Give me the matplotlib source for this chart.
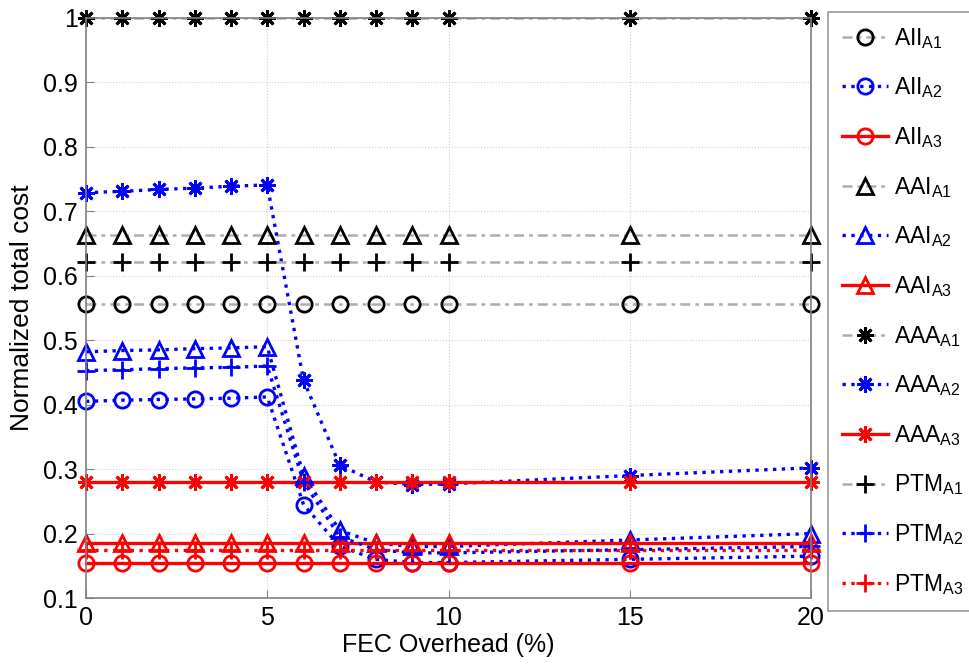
import matplotlib
matplotlib.use('Agg')
import matplotlib.pyplot as plt
import numpy as np

plt.rcParams['font.family'] = ['Liberation Sans', 'DejaVu Sans']
plt.rcParams['mathtext.fontset'] = 'custom'
plt.rcParams['mathtext.rm'] = 'Liberation Sans'

# FEC overhead (%)
x = [0, 1, 2, 3, 4, 5, 6, 7, 8, 9, 10, 15, 20]

# A1 series (flat)
aii_a1 = [0.556] * 13
aai_a1 = [0.664] * 13
aaa_a1 = [1.0] * 13
ptm_a1 = [0.621] * 13

# A2 series
aii_a2 = [0.405, 0.407, 0.408, 0.409, 0.410, 0.412, 0.245, 0.180, 0.160, 0.155, 0.155, 0.160, 0.165]
aai_a2 = [0.482, 0.484, 0.485, 0.487, 0.488, 0.490, 0.290, 0.205, 0.185, 0.180, 0.180, 0.190, 0.200]
aaa_a2 = [0.729, 0.731, 0.734, 0.736, 0.739, 0.741, 0.438, 0.306, 0.280, 0.276, 0.277, 0.290, 0.302]
ptm_a2 = [0.453, 0.454, 0.456, 0.457, 0.458, 0.460, 0.280, 0.195, 0.175, 0.170, 0.170, 0.175, 0.180]

# A3 series (flat)
aii_a3 = [0.155] * 13
aai_a3 = [0.186] * 13
aaa_a3 = [0.280] * 13
ptm_a3 = [0.175] * 13

fig = plt.figure(figsize=(9.69, 6.72), dpi=100)
ax = fig.add_axes([86/969, 1-598/672, (811-86)/969, (598-18)/672])

gray = (0.68, 0.68, 0.68)
mew = 2

def draw(y, marker, mcolor, lcolor, ls, label, msz=11):
    if ls == '-.':
        ax.plot(x, y, color=lcolor, lw=1.8, dashes=(4, 2, 1.5, 2))
        lw = 1.8
    else:
        lw = 2.4
    ax.plot(x, y, linestyle=ls if ls != '-.' else 'none', color=lcolor, lw=lw,
            marker=marker, markersize=msz, markerfacecolor='none',
            markeredgecolor=mcolor, markeredgewidth=mew, clip_on=False)
    # legend proxy
    ax.plot([], [], color=lcolor, lw=lw, linestyle=ls if ls != '-.' else (0, (4, 2, 1.5, 2)),
            marker=marker, markersize=msz, markerfacecolor='none',
            markeredgecolor=mcolor, markeredgewidth=mew, label=label)

draw(aii_a1, 'o', 'k', gray, '-.', r'AII$_\mathregular{A1}$')
draw(aii_a2, 'o', 'b', 'b', ':', r'AII$_\mathregular{A2}$')
draw(aii_a3, 'o', 'r', 'r', '-', r'AII$_\mathregular{A3}$')
draw(aai_a1, '^', 'k', gray, '-.', r'AAI$_\mathregular{A1}$')
draw(aai_a2, '^', 'b', 'b', ':', r'AAI$_\mathregular{A2}$')
draw(aai_a3, '^', 'r', 'r', '-', r'AAI$_\mathregular{A3}$')
draw(aaa_a1, (8, 2, 0), 'k', gray, '-.', r'AAA$_\mathregular{A1}$', 12)
draw(aaa_a2, (8, 2, 0), 'b', 'b', ':', r'AAA$_\mathregular{A2}$', 12)
draw(aaa_a3, (8, 2, 0), 'r', 'r', '-', r'AAA$_\mathregular{A3}$', 12)
draw(ptm_a1, '+', 'k', gray, '-.', r'PTM$_\mathregular{A1}$', 13)
draw(ptm_a2, '+', 'b', 'b', ':', r'PTM$_\mathregular{A2}$', 13)
draw(ptm_a3, '+', 'r', 'r', ':', r'PTM$_\mathregular{A3}$', 13)

ax.set_xlim(0, 20)
ax.set_ylim(0.1, 1.0)
ax.set_xticks([0, 5, 10, 15, 20])
ax.set_yticks(np.arange(0.1, 1.01, 0.1))
ax.set_yticklabels(['0.1', '0.2', '0.3', '0.4', '0.5', '0.6', '0.7', '0.8', '0.9', '1'])
ax.grid(True, linestyle=':', color='0.82', lw=0.8)
ax.tick_params(labelsize=18, direction='in', length=6, color='0.5', pad=6)
for s in ax.spines.values():
    s.set_color('0.5')
    s.set_linewidth(1.2)
ax.set_xlabel('FEC Overhead (%)', fontsize=18, labelpad=2)
ax.set_ylabel('Normalized total cost', fontsize=19, labelpad=6)

leg = fig.legend(loc='upper left', bbox_to_anchor=(828/969, 1-12/672), fontsize=16.5,
                 handlelength=2.0, labelspacing=1.08, borderaxespad=0, fancybox=False,
                 edgecolor='0.5', handletextpad=0.3, borderpad=0.6)
leg.get_frame().set_linewidth(1.2)

fig.savefig('out.png', dpi=100)
